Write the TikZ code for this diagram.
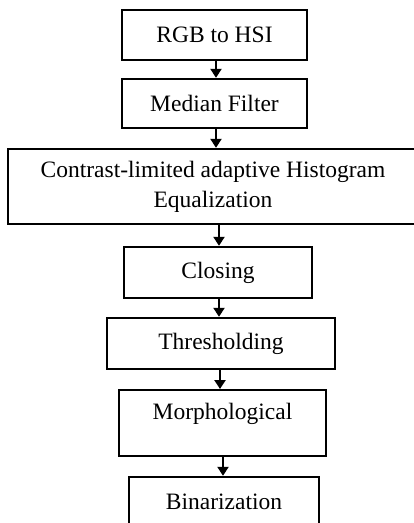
\documentclass[tikz,border=0pt]{standalone}
\usepackage{fontspec}
\setmainfont{Liberation Serif}
\usetikzlibrary{arrows.meta}
\begin{document}
\begin{tikzpicture}[x=1pt,y=-1pt,
  stepbox/.style={draw=black,line width=2.4pt,inner sep=0pt,align=center,
    font=\fontsize{23.5}{30}\selectfont},
  arr/.style={line width=2.4pt,-{Triangle[width=11pt,length=9pt]}}]
\useasboundingbox (0,0) rectangle (414,523);
\clip (0,0) rectangle (414,523);
\node[stepbox,minimum width=185pt,minimum height=50pt] (b1) at (214.5,35) {RGB to HSI};
\node[stepbox,minimum width=185pt,minimum height=49pt] (b2) at (214.5,103.5) {Median Filter};
\node[stepbox,minimum width=410pt,minimum height=75pt] (b3) at (213,186.5) {Contrast-limited adaptive Histogram\\Equalization};
\node[stepbox,minimum width=188pt,minimum height=51pt] (b4) at (218,272.5) {Closing};
\node[stepbox,minimum width=228pt,minimum height=51pt] (b5) at (221,343.5) {Thresholding};
\node[stepbox,minimum width=207pt,text height=29pt,text depth=37pt,anchor=north] (b6) at (222.5,389) {Morphological};
\node[stepbox,minimum width=190pt,minimum height=50pt] (b7) at (224,502) {Binarization};
\draw[arr] (b1.south -| 216,0) -- (b2.north -| 216,0);
\draw[arr] (b2.south -| 216,0) -- (b3.north -| 216,0);
\draw[arr] (b3.south -| 219,0) -- (b4.north -| 219,0);
\draw[arr] (b4.south -| 219,0) -- (b5.north -| 219,0);
\draw[arr] (b5.south -| 220,0) -- (b6.north -| 220,0);
\draw[arr] (b6.south -| 223,0) -- (b7.north -| 223,0);
\end{tikzpicture}
\end{document}
